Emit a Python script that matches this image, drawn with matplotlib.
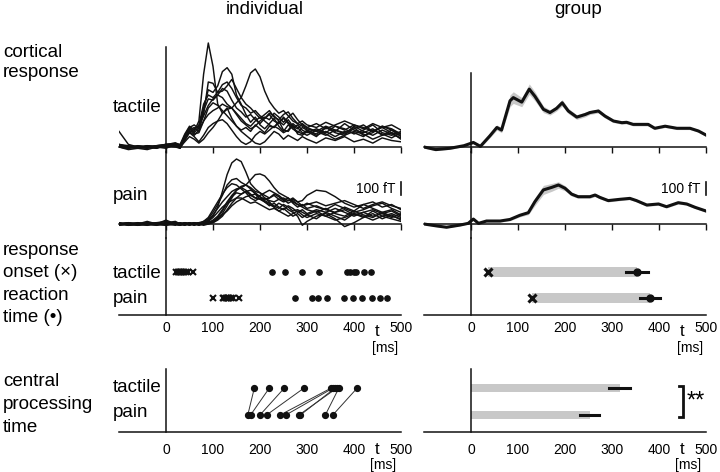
import matplotlib
matplotlib.use('Agg')
import matplotlib.pyplot as plt
import numpy as np

plt.rcParams['font.family'] = ['Liberation Sans', 'DejaVu Sans']

# time grid of the single-subject traces (ms)
t_grid = [-100, -80, -60, -40, -20, 0, 20, 30, 40, 50,
          60, 70, 80, 90, 100, 110, 120, 130, 140, 150,
          160, 170, 180, 190, 200, 210, 220, 230, 240, 250,
          260, 270, 280, 290, 300, 320, 340, 360, 380, 400,
          420, 440, 460, 480, 500]

# single-subject cortical responses (fT)
tactile_traces = [
    [120, 20, 0, -10, 10, 20, 30, 10, 80, 140,
     120, 200, 560, 800, 620, 330, 260, 300, 220, 160,
     130, 150, 120, 170, 140, 110, 160, 150, 200, 130,
     120, 170, 100, 90, 120, 80, 150, 110, 90, 160,
     120, 90, 130, 100, 70],
    [0, -10, 10, 0, -10, 10, 20, 0, 90, 150,
     110, 150, 300, 440, 420, 470, 580, 610, 560, 400,
     330, 250, 190, 230, 170, 140, 180, 220, 160, 120,
     170, 140, 110, 150, 130, 100, 150, 120, 180, 130,
     110, 140, 90, 130, 100],
    [10, 0, -10, 10, 0, 20, 10, -10, 70, 120,
     90, 130, 200, 250, 280, 300, 330, 310, 300, 340,
     380, 470, 570, 600, 540, 430, 350, 300, 260, 280,
     240, 200, 180, 160, 140, 120, 160, 130, 100, 140,
     170, 120, 150, 110, 90],
    [20, 10, -10, 0, 10, 0, 30, 20, 100, 160,
     130, 170, 330, 400, 380, 420, 480, 500, 450, 380,
     320, 300, 260, 280, 240, 220, 250, 200, 180, 230,
     190, 150, 170, 130, 110, 140, 110, 160, 140, 100,
     130, 170, 110, 90, 120],
    [0, -20, -10, 10, 0, 10, 20, 0, 60, 130,
     150, 120, 280, 370, 360, 400, 450, 430, 360, 300,
     270, 230, 250, 210, 180, 220, 260, 240, 200, 170,
     210, 160, 140, 180, 150, 120, 90, 130, 110, 150,
     90, 110, 160, 130, 80],
    [10, 0, -10, -20, 0, 10, 0, -10, 50, 110,
     140, 160, 240, 320, 370, 400, 380, 330, 300, 260,
     220, 180, 160, 200, 230, 200, 170, 150, 190, 220,
     180, 140, 120, 100, 130, 90, 120, 80, 120, 110,
     80, 130, 100, 70, 110],
    [0, 10, 0, -10, 10, 0, 10, 0, 80, 140,
     100, 110, 200, 300, 340, 320, 280, 240, 200, 160,
     120, 90, 60, 30, 20, 40, 80, 120, 100, 60,
     90, 70, 50, 80, 60, 30, 70, 50, 80, 40,
     60, 30, 70, 50, 40],
    [20, 0, 10, 0, -10, 20, 10, 0, 40, 80,
     60, 30, 60, 110, 150, 200, 260, 290, 300, 250,
     200, 170, 140, 160, 200, 230, 210, 260, 230, 190,
     230, 260, 210, 170, 150, 180, 140, 170, 200, 170,
     140, 180, 150, 170, 130],
    [0, -10, 0, 10, 0, -10, 20, 10, 70, 110,
     80, 40, 90, 150, 180, 200, 210, 180, 130, 80,
     40, 20, 40, 90, 120, 100, 130, 160, 140, 110,
     130, 180, 150, 110, 90, 130, 100, 60, 90, 120,
     100, 60, 90, 110, 60],
    [10, 0, -10, 0, 10, 20, 30, 10, 90, 150,
     170, 140, 250, 500, 490, 420, 430, 470, 520, 450,
     380, 330, 300, 260, 220, 250, 280, 230, 210, 250,
     270, 220, 180, 200, 170, 150, 190, 160, 130, 170,
     150, 120, 160, 140, 100],
]

pain_traces = [
    [10, -10, 0, 20, 0, 30, 0, -10, 10, 0,
     10, -10, 10, 30, 60, 130, 250, 380, 470, 500,
     480, 400, 310, 270, 240, 200, 170, 130, 100, 120,
     90, 60, 80, 50, 70, 40, 90, 60, 30, 80,
     50, 100, 60, 40, 20],
    [0, 10, -10, 0, 10, 0, -10, 0, -10, 10,
     0, 10, 0, 20, 10, 40, 80, 140, 200, 260,
     290, 300, 340, 380, 385, 370, 330, 280, 240, 220,
     200, 170, 150, 130, 110, 90, 120, 80, 60, 100,
     70, 50, 90, 60, 40],
    [-10, 0, 10, 0, -10, 10, 20, 0, 10, -10,
     0, 10, 20, 40, 90, 150, 220, 300, 340, 350,
     320, 300, 280, 250, 240, 220, 200, 230, 210, 180,
     200, 160, 130, 150, 120, 140, 110, 90, 130, 100,
     150, 120, 90, 110, 70],
    [0, -10, 0, 10, 0, -10, 10, 0, 0, 10,
     -10, 0, 10, 0, 20, 50, 100, 160, 210, 240,
     230, 250, 220, 200, 190, 200, 180, 170, 190, 200,
     180, 190, 170, 180, 220, 260, 250, 210, 160, 130,
     150, 170, 130, 150, 110],
    [10, 0, -10, 0, 0, 10, 0, -10, 0, 10,
     0, -10, 0, 10, 30, 60, 110, 170, 220, 260,
     280, 300, 270, 230, 190, 170, 150, 130, 160, 140,
     110, 90, 60, -10, 20, 60, 80, 40, -20, 10,
     50, 80, 40, 70, 30],
    [0, 10, 0, -10, 10, 0, 0, 10, 0, -10,
     10, 0, 10, 30, 70, 120, 170, 210, 250, 270,
     280, 260, 230, 200, 220, 240, 260, 240, 220, 190,
     160, 180, 150, 140, 160, 130, 110, 150, 120, 90,
     110, 140, 160, 120, 90],
    [-10, 0, 10, 0, -10, 0, 10, 0, -10, 0,
     10, 0, -10, 0, 10, 30, 60, 110, 160, 200,
     230, 250, 260, 240, 210, 180, 160, 140, 120, 150,
     130, 100, 110, 90, 70, 100, 60, 30, 50, 80,
     60, 30, 60, 80, 50],
    [0, 0, -10, 10, 0, -10, 0, 10, 0, 0,
     -10, 10, 0, 10, 20, 40, 70, 100, 140, 170,
     190, 210, 220, 230, 210, 190, 200, 220, 190, 170,
     180, 200, 170, 140, 150, 170, 140, 160, 180, 150,
     120, 150, 170, 140, 120],
    [10, -10, 0, 0, 10, 20, 0, -10, 10, 0,
     0, 10, 0, 20, 50, 90, 130, 160, 180, 200,
     200, 180, 160, 170, 150, 130, 110, 120, 100, 80,
     60, 80, 100, 70, 50, 80, 60, 90, 110, 70,
     90, 60, 80, 100, 60],
    [0, 10, 0, -10, 0, 10, 0, 0, 10, 0,
     10, 0, 20, 50, 110, 170, 230, 280, 310, 300,
     270, 240, 200, 180, 200, 170, 140, 160, 130, 110,
     140, 120, 90, 110, 80, 110, 90, 120, 90, 60,
     90, 110, 80, 50, 80],
]

# group averages (fT) with standard error band
group_t_tactile = [-100, -75, -45, -15, 5, 20, 40, 55, 65, 83,
                   90, 108, 124, 136, 154, 168, 182, 194, 207, 225,
                   243, 253, 271, 285, 303, 321, 331, 345, 377, 391,
                   413, 438, 466, 484, 500]
group_tactile = [0, -20, -10, 10, 35, 5, 85, 150, 130, 355,
                 380, 345, 445, 390, 290, 265, 297, 340, 277, 230,
                 250, 265, 277, 238, 200, 187, 190, 174, 174, 144,
                 160, 144, 144, 123, 92]
group_tactile_sem = [8, 8, 8, 8, 10, 10, 15, 20, 20, 45,
                     45, 35, 40, 35, 25, 20, 20, 25, 20, 18,
                     18, 15, 15, 15, 12, 12, 12, 12, 12, 10,
                     10, 10, 10, 10, 10]

group_t_pain = [-100, -73, -52, -23, -6, 5, 16, 33, 62, 83,
                104, 122, 136, 154, 172, 186, 200, 214, 228, 253,
                264, 274, 292, 317, 338, 352, 374, 399, 416, 441,
                459, 477, 500]
group_pain = [0, -15, -25, -8, 5, 38, 5, 23, 23, 35,
              67, 87, 172, 262, 282, 300, 275, 230, 210, 210,
              223, 205, 180, 190, 197, 180, 146, 154, 133, 164,
              154, 128, 100]
group_pain_sem = [5, 5, 5, 5, 5, 8, 5, 8, 8, 10,
                  12, 15, 30, 35, 30, 25, 20, 15, 12, 12,
                  12, 12, 10, 10, 10, 10, 10, 10, 10, 10,
                  10, 10, 10]

# per subject response onset and reaction time (ms)
onset_tactile = [22, 25, 27, 30, 32, 35, 38, 42, 46, 58]
rt_tactile = [225, 253, 290, 326, 385, 392, 400, 404, 421, 437]
onset_pain = [100, 121, 124, 127, 129, 132, 135, 139, 143, 156]
rt_pain = [274, 311, 324, 343, 379, 397, 418, 438, 455, 471]

# per subject central processing time (ms), paired by subject
cpt_tactile = [188, 220, 252, 294, 352, 356, 364, 360, 368, 407]
cpt_pain = [174, 180, 200, 214, 243, 255, 283, 286, 339, 355]

x_ticks = [0, 100, 200, 300, 400, 500]

W, H = 720, 472
PX_PER_FT = 0.13
BAR_GRAY = '#c8c8c8'
INK = '#111111'

fig = plt.figure(figsize=(W / 100, H / 100), dpi=100)


def px_axes(x0, x1, ytop, ybot):
    return fig.add_axes([x0 / W, 1 - ybot / H, (x1 - x0) / W, (ybot - ytop) / H])


def ftext(x, y, s, **kw):
    kw.setdefault('va', 'baseline')
    fig.text(x / W, 1 - y / H, s, **kw)


def base_style(ax):
    ax.patch.set_visible(False)
    for s in ['top', 'right']:
        ax.spines[s].set_visible(False)
    ax.spines['left'].set_position(('data', 0))
    for s in ['left', 'bottom']:
        ax.spines[s].set_linewidth(1.1)
        ax.spines[s].set_color(INK)
    ax.set_xlim(-100, 500)
    ax.set_yticks([])
    ax.set_xticks(x_ticks)


def cortical_style(ax, base_px, ytop, ybot, vtop=None):
    ax.set_ylim(-(ybot - base_px) / PX_PER_FT, (base_px - ytop) / PX_PER_FT)
    base_style(ax)
    ax.spines['bottom'].set_position(('data', 0))
    if vtop is not None:
        ax.spines['left'].set_bounds(ax.get_ylim()[0], (base_px - vtop) / PX_PER_FT)
    ax.set_xticklabels([])
    ax.tick_params(axis='x', direction='out', length=4, width=1, color=INK)


def time_style(ax, pad):
    base_style(ax)
    ax.tick_params(axis='x', length=0, pad=pad, labelsize=10)


columns = [(119, 401, 47), (424, 706, 73)]
n = len(onset_tactile)

for col, (x0, x1, vtop) in enumerate(columns):
    # cortical response, tactile
    ax_t = px_axes(x0, x1, 40, 152)
    cortical_style(ax_t, 147, 40, 152, vtop)
    # cortical response, pain
    ax_p = px_axes(x0, x1, 152, 238)
    cortical_style(ax_p, 224, 152, 238)

    if col == 0:
        for tr in tactile_traces:
            ax_t.plot(t_grid, tr, color=INK, lw=1.05)
        for tr in pain_traces:
            ax_p.plot(t_grid, tr, color=INK, lw=1.05)
    else:
        gt = np.array(group_tactile)
        gs = np.array(group_tactile_sem)
        ax_t.fill_between(group_t_tactile, gt - gs, gt + gs, color=BAR_GRAY, lw=0)
        ax_t.plot(group_t_tactile, gt, color=INK, lw=2.2)
        gp = np.array(group_pain)
        gps = np.array(group_pain_sem)
        ax_p.fill_between(group_t_pain, gp - gps, gp + gps, color=BAR_GRAY, lw=0)
        ax_p.plot(group_t_pain, gp, color=INK, lw=2.2)

    # 100 fT scale bar
    ax_p.plot([500, 500], [223, 323], color=INK, lw=1.2, clip_on=False)
    ax_p.text(489, 273, '100 fT', ha='right', va='center', fontsize=10)

    # response onset / reaction time
    ax_o = px_axes(x0, x1, 238, 315)
    ax_o.set_ylim(-0.654, 2.308)
    time_style(ax_o, 4)
    # central processing time
    ax_c = px_axes(x0, x1, 369, 432)
    ax_c.set_ylim(-0.63, 1.70)
    time_style(ax_c, 8)

    if col == 0:
        for onsets, rts, row in [(onset_tactile, rt_tactile, 1), (onset_pain, rt_pain, 0)]:
            ax_o.plot(onsets, [row] * n, 'x', color=INK, ms=4.5, mew=1.5)
            ax_o.plot(rts, [row] * n, 'o', color=INK, ms=3.8)
        for ct, cp in zip(cpt_tactile, cpt_pain):
            ax_c.plot([cp, ct], [0, 1], color='#333333', lw=0.7)
        ax_c.plot(cpt_tactile, [1] * n, 'o', color=INK, ms=4.2)
        ax_c.plot(cpt_pain, [0] * n, 'o', color=INK, ms=4.2)
    else:
        for onsets, rts, row in [(onset_tactile, rt_tactile, 1), (onset_pain, rt_pain, 0)]:
            on_m = np.mean(onsets)
            rt_m = np.mean(rts)
            rt_se = np.std(rts, ddof=1) / np.sqrt(len(rts))
            ax_o.barh(row, rt_m - on_m, left=on_m, height=0.35, color=BAR_GRAY)
            ax_o.plot([rt_m - rt_se, rt_m + rt_se], [row, row], color=INK, lw=2.2)
            ax_o.plot(rt_m, row, 'o', color=INK, ms=5)
            ax_o.plot(on_m, row, 'x', color=INK, ms=5.5, mew=2.2)
        for vals, row in [(cpt_tactile, 1), (cpt_pain, 0)]:
            m = np.mean(vals)
            se = np.std(vals, ddof=1) / np.sqrt(len(vals))
            ax_c.barh(row, m, left=0, height=0.3, color=BAR_GRAY)
            ax_c.plot([m - se, m + se], [row, row], color=INK, lw=2.2)
        # significance bracket
        bx = 452
        ax_c.plot([bx - 9, bx, bx, bx - 9], [1.08, 1.08, -0.08, -0.08],
                  color=INK, lw=2, solid_joinstyle='miter')
        ax_c.text(bx + 6, 0.5, '**', ha='left', va='center', fontsize=17)

    # axis unit labels
    off = x0 - 119
    ftext(377 + off, 336, 't', ha='center', fontsize=12)
    ftext(385 + off, 352, '[ms]', ha='center', fontsize=10)
    ftext(377 + off, 454, 't', ha='center', fontsize=12)
    ftext(383 + off, 469, '[ms]', ha='center', fontsize=10)

# column titles
ftext(265, 14, 'individual', ha='center', fontsize=13.5)
ftext(578, 14, 'group', ha='center', fontsize=13.5)

# row labels inside individual column
for y, s in [(112, 'tactile'), (200, 'pain'), (278, 'tactile'), (303, 'pain'),
             (392, 'tactile'), (417, 'pain')]:
    ftext(113, y, s, fontsize=13.5)

# section labels
for y, s in [(57, 'cortical'), (77, 'response'),
             (255, 'response'), (277, 'onset (×)'), (300, 'reaction'), (322, 'time (•)'),
             (386, 'central'), (409, 'processing'), (432, 'time')]:
    ftext(3, y, s, fontsize=13.5)

fig.savefig('out.png', dpi=100)
